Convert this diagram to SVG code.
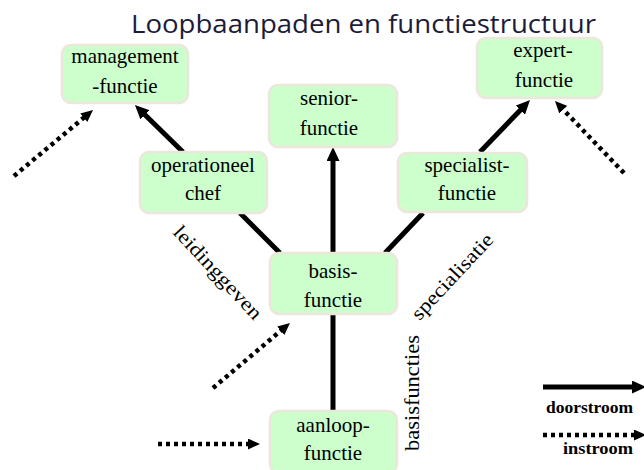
<svg xmlns="http://www.w3.org/2000/svg" width="644" height="470" viewBox="0 0 644 470">
<style>
.box{fill:#ccffcc;stroke:#ece6dc;stroke-width:2.5}
.t{font-family:"Liberation Serif","Times New Roman",serif;font-size:21px;fill:#000;text-anchor:middle}
.lbl{font-family:"Liberation Serif","Times New Roman",serif;font-size:20px;fill:#000;text-anchor:middle}
.leg{font-family:"Liberation Serif","Times New Roman",serif;font-size:17.5px;font-weight:bold;fill:#000;text-anchor:end}
.solid{stroke:#000;stroke-width:5;fill:none}
.dot{stroke:#000;stroke-width:4.5;fill:none;stroke-dasharray:4 4}
</style>
<defs>
<marker id="ah" markerUnits="userSpaceOnUse" viewBox="0 0 14 13" refX="4" refY="6.5" markerWidth="14" markerHeight="13" orient="auto"><path d="M0,0 L14,6.5 L0,13 z" fill="#000"/></marker>
<marker id="ahd" markerUnits="userSpaceOnUse" viewBox="0 0 12 11" refX="3" refY="5.5" markerWidth="12" markerHeight="11" orient="auto"><path d="M0,0 L12,5.5 L0,11 z" fill="#000"/></marker>
</defs>
<text x="131" y="33" font-family="'Open Sans','Liberation Sans',sans-serif" font-size="25" fill="#1c1c3a" textLength="465" lengthAdjust="spacingAndGlyphs">Loopbaanpaden en functiestructuur</text>
<g id="connectors">
<path class="solid" d="M183,152 L142.1,112" marker-end="url(#ah)"/>
<path class="solid" d="M333,253 L333,157" marker-end="url(#ah)"/>
<path class="solid" d="M480,152 L523.1,107.2" marker-end="url(#ah)"/>
<path class="solid" d="M240,213 L280,253"/>
<path class="solid" d="M423,213 L385,253"/>
<path class="solid" d="M333,315 L333,411"/>
<path class="dot" d="M14,176 L86.1,115.8" marker-end="url(#ahd)"/>
<path class="dot" d="M624,173 L561.2,107.5" marker-end="url(#ahd)"/>
<path class="dot" d="M213,388 L283.1,328.8" marker-end="url(#ahd)"/>
<path class="dot" d="M158,444 L251,444" marker-end="url(#ahd)"/>
</g>
<g id="management"><rect class="box" x="62" y="45" width="126" height="58" rx="9"/><text class="t" x="125" y="63">management</text><text class="t" x="125" y="93">-functie</text></g>
<g id="expert"><rect class="box" x="477" y="38" width="125" height="60" rx="9"/><text class="t" x="543" y="57">expert-</text><text class="t" x="544" y="87">functie</text></g>
<g id="senior"><rect class="box" x="269" y="85" width="128" height="62" rx="9"/><text class="t" x="329" y="105">senior-</text><text class="t" x="329" y="135">functie</text></g>
<g id="operationeel"><rect class="box" x="140" y="152" width="127" height="61" rx="9"/><text class="t" x="203" y="172">operationeel</text><text class="t" x="203" y="200">chef</text></g>
<g id="specialist"><rect class="box" x="398" y="153" width="129" height="59" rx="9"/><text class="t" x="467" y="172">specialist-</text><text class="t" x="467" y="200">functie</text></g>
<g id="basis"><rect class="box" x="270" y="253" width="127" height="61" rx="9"/><text class="t" x="333" y="278">basis-</text><text class="t" x="333" y="307">functie</text></g>
<g id="aanloop"><rect class="box" x="270" y="411" width="127" height="62" rx="9"/><text class="t" x="333" y="432">aanloop-</text><text class="t" x="333" y="460">functie</text></g>
<text class="lbl" transform="translate(213,277) rotate(47)" textLength="120" lengthAdjust="spacingAndGlyphs">leidinggeven</text>
<text class="lbl" transform="translate(457,281) rotate(-47)" textLength="110" lengthAdjust="spacingAndGlyphs">specialisatie</text>
<text class="lbl" transform="translate(419,393) rotate(-90)" textLength="116" lengthAdjust="spacingAndGlyphs">basisfuncties</text>
<g id="legend">
<path class="solid" d="M543,387 L636,387" marker-end="url(#ah)"/>
<text class="leg" x="633" y="413" textLength="87" lengthAdjust="spacingAndGlyphs">doorstroom</text>
<path class="dot" d="M543,435 L637,435" marker-end="url(#ahd)"/>
<text class="leg" x="633" y="454" textLength="70" lengthAdjust="spacingAndGlyphs">instroom</text>
</g>
</svg>
